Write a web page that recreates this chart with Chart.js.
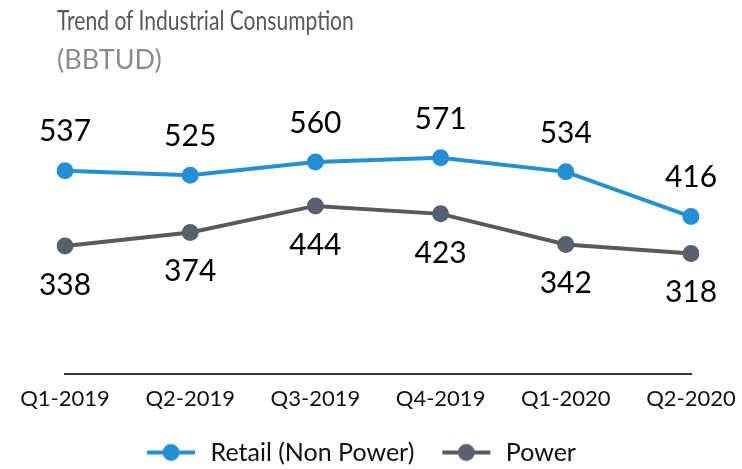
<!DOCTYPE html>
<html>
<head>
<meta charset="utf-8">
<script src="https://cdn.jsdelivr.net/npm/chart.js@4"></script>
<style>
  body { margin: 0; background: #fff; }
  #wrap { position: relative; width: 742px; height: 469px; }
  #title, #subtitle { position: absolute; left: 57px; font-family: Lato, sans-serif; font-size: 27px; white-space: nowrap; transform-origin: left top; }
  #title { top: 3px; color: #595959; transform: scaleX(0.78); }
  #subtitle { top: 42px; color: #8c8c8c; }
</style>
</head>
<body>
<div id="wrap">
  <canvas id="line-chart" width="742" height="469"></canvas>
  <div id="title">Trend of Industrial Consumption</div>
  <div id="subtitle">(BBTUD)</div>
</div>
<script>
// Chart data
var quarters = ["Q1-2019", "Q2-2019", "Q3-2019", "Q4-2019", "Q1-2020", "Q2-2020"];
var retailValues = [537, 525, 560, 571, 534, 416];
var powerValues = [338, 374, 444, 423, 342, 318];

var blue = '#2490d3';
var grayLine = '#5a5a5a';
var grayDot = '#56606e';

// legend marker: line with a dot in the middle
function legendMarker(lineColor, dotColor) {
    var c = document.createElement('canvas');
    c.width = 75;
    c.height = 20;
    var g = c.getContext('2d');
    g.strokeStyle = lineColor;
    g.lineWidth = 4;
    g.beginPath();
    g.moveTo(24, 10);
    g.lineTo(72, 10);
    g.stroke();
    g.fillStyle = dotColor;
    g.beginPath();
    g.arc(48, 10, 8.5, 0, Math.PI * 2);
    g.fill();
    return c;
}

// value labels above / below points
var valueLabels = {
    id: 'valueLabels',
    afterDatasetsDraw: function(chart) {
        var ctx = chart.ctx;
        ctx.save();
        ctx.font = '30px Lato, sans-serif';
        ctx.fillStyle = '#000';
        ctx.textAlign = 'center';
        ctx.textBaseline = 'middle';
        chart.data.datasets.forEach(function(ds, i) {
            var meta = chart.getDatasetMeta(i);
            var dy = i === 0 ? -39 : 39;
            meta.data.forEach(function(pt, j) {
                ctx.fillText(ds.data[j], pt.x, pt.y + dy);
            });
        });
        ctx.restore();
    }
};

var ctx = document.getElementById('line-chart');

var chartData = {
    labels: quarters,
    datasets: [{
        label: 'Retail (Non Power)',
        data: retailValues,
        borderColor: blue,
        backgroundColor: blue,
        borderWidth: 4,
        pointRadius: 8.5,
        pointBorderWidth: 0,
        pointBackgroundColor: blue,
        tension: 0
    }, {
        label: 'Power',
        data: powerValues,
        borderColor: grayLine,
        backgroundColor: grayDot,
        borderWidth: 4,
        pointRadius: 8.5,
        pointBorderWidth: 0,
        pointBackgroundColor: grayDot,
        tension: 0
    }]
};

var chartOptions = {
    responsive: false,
    animation: false,
    layout: {
        padding: { top: 109, left: 8, right: 51, bottom: -6 }
    },
    scales: {
        x: {
            offset: false,
            grid: { display: false },
            border: { display: true, color: '#3a3a3a', width: 2 },
            ticks: {
                padding: 4,
                color: '#111',
                font: { family: 'Lato, sans-serif', size: 22 },
                maxRotation: 0,
                autoSkip: false
            },
            afterFit: function(scale) {
                scale.height = 62;
            }
        },
        y: {
            display: true,
            min: 0,
            max: 700,
            grid: { display: false },
            border: { display: false },
            ticks: { display: false },
            afterFit: function(scale) {
                scale.width = 57;
            }
        }
    },
    plugins: {
        legend: {
            position: 'bottom',
            labels: {
                usePointStyle: true,
                pointStyleWidth: 75,
                padding: 4,
                color: '#111',
                font: { family: 'Lato, sans-serif', size: 25 },
                generateLabels: function(chart) {
                    return chart.data.datasets.map(function(ds, i) {
                        return {
                            text: ds.label,
                            datasetIndex: i,
                            fontColor: '#111',
                            pointStyle: i === 0 ? legendMarker(blue, blue) : legendMarker(grayLine, grayDot),
                            lineWidth: 0,
                            strokeStyle: 'transparent',
                            fillStyle: 'transparent'
                        };
                    });
                }
            }
        },
        tooltip: { enabled: false }
    }
};

var lineChart = new Chart(ctx, {
    type: 'line',
    data: chartData,
    options: chartOptions,
    plugins: [valueLabels]
});
</script>
</body>
</html>
